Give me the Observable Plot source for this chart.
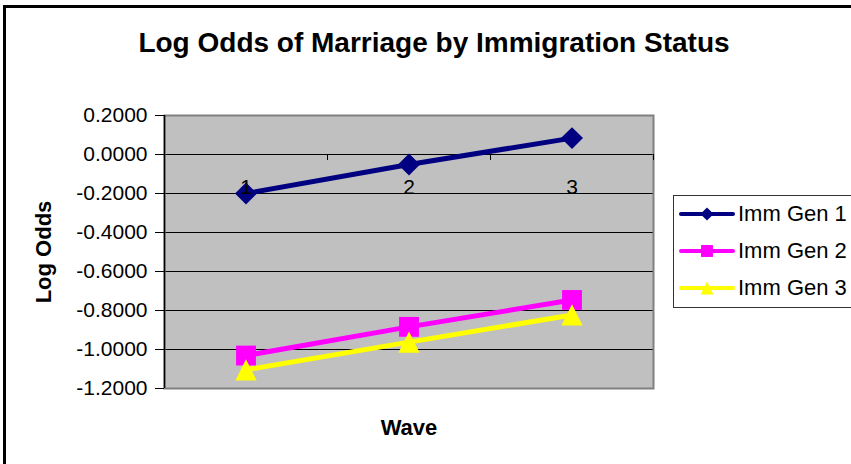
<!DOCTYPE html>
<html>
<head>
<meta charset="utf-8">
<script src="https://cdn.jsdelivr.net/npm/d3@7"></script>
<script src="https://cdn.jsdelivr.net/npm/@observablehq/plot@0.6"></script>
<style>
  html, body { margin: 0; padding: 0; background: #fff; overflow: hidden; }
  body { font-family: "Liberation Sans", Arial, sans-serif; }
  #wrap { position: relative; width: 851px; height: 464px; overflow: hidden; }
  #border { position: absolute; left: 3px; top: 5px; width: 900px; height: 600px; border: 3px solid #000; box-sizing: border-box; pointer-events: none; }
  #title { position: absolute; left: 0; width: 868px; top: 27px; text-align: center; font-weight: bold; font-size: 28px; color: #000; }
  #chart { position: absolute; left: 0; top: 0; }
  #legend { position: absolute; left: 673px; top: 195px; width: 220px; height: 113px; border: 1.5px solid #333; box-sizing: border-box; background: #fff; }
  .row { position: absolute; left: 5px; height: 30px; display: flex; align-items: center; }
  .row span { font-size: 22px; margin-left: 3px; white-space: nowrap; }
</style>
</head>
<body>
<div id="wrap">
  <div id="chart"></div>
  <div id="border"></div>
  <div id="title">Log Odds of Marriage by Immigration Status</div>
  <div id="legend"></div>
</div>
<script>
// ---- data ----
const waves = [1, 2, 3];
const gen1 = [-0.200, -0.051, 0.084];
const gen2 = [-1.031, -0.884, -0.746];
const gen3 = [-1.104, -0.962, -0.823];
const seriesNames = ["Imm Gen 1", "Imm Gen 2", "Imm Gen 3"];
const seriesColors = ["#000080", "#FF00FF", "#FFFF00"];
const yTicks = [0.2, 0, -0.2, -0.4, -0.6, -0.8, -1.0, -1.2];
const titleText = "Log Odds of Marriage by Immigration Status";
const xTitle = "Wave";
const yTitle = "Log Odds";

// ---- Excel-like symbols ----
const excelDiamond = { draw(ctx, size) { const r = Math.sqrt(size) * 0.62; ctx.moveTo(0, -r); ctx.lineTo(r, 0); ctx.lineTo(0, r); ctx.lineTo(-r, 0); ctx.closePath(); } };
const excelSquare = { draw(ctx, size) { const h = Math.sqrt(size) * 0.56; ctx.rect(-h, -h, 2 * h, 2 * h); } };
const excelTriangle = { draw(ctx, size) { const h = Math.sqrt(size) * 0.6; ctx.moveTo(0, -h); ctx.lineTo(h, h); ctx.lineTo(-h, h); ctx.closePath(); } };
const seriesSymbols = [excelDiamond, excelSquare, excelTriangle];

const seriesValues = [gen1, gen2, gen3];
const rows = [];
seriesValues.forEach((vals, s) => vals.forEach((v, i) => rows.push({ wave: waves[i], value: v, series: seriesNames[s], si: s })));
const xBounds = waves.map(w => w + 0.5);
const xDomain = [waves[0] - 0.5, waves[waves.length - 1] + 0.5];
const fmt = d => (Math.abs(d) < 1e-9 ? 0 : d).toFixed(4);

const chart = Plot.plot({
  width: 851,
  height: 464,
  marginLeft: 164,
  marginRight: 198,
  marginTop: 115,
  marginBottom: 76,
  style: { fontFamily: '"Liberation Sans", Arial, sans-serif', background: "transparent", color: "#000" },
  x: { type: "linear", domain: xDomain, axis: null },
  y: { domain: [yTicks[yTicks.length - 1], yTicks[0]], axis: null },
  marks: [
    Plot.frame({ fill: "#C0C0C0", stroke: null }),
    Plot.ruleY(yTicks, { stroke: "#000", strokeWidth: 1 }),
    Plot.frame({ stroke: "#808080", strokeWidth: 2, fill: null }),
    Plot.ruleX([xDomain[0]], { stroke: "#000", strokeWidth: 1.5 }),
    Plot.axisY({ ticks: yTicks, tickFormat: fmt, tickSize: 9, tickPadding: 8, fontSize: 21, label: null, stroke: "#000" }),
    // category axis crossing at zero
    Plot.ruleX(xBounds, { x: d => d, y1: 0, y2: 0, insetBottom: -6, stroke: "#000", strokeWidth: 1 }),
    // series
    Plot.line(rows, { x: "wave", y: "value", z: "series", stroke: d => seriesColors[d.si], strokeWidth: 5 }),
    ...seriesNames.map((name, s) =>
      Plot.dot(rows.filter(r => r.si === s), { x: "wave", y: "value", symbol: () => seriesSymbols[s], fill: seriesColors[s], stroke: null, r: 10 })
    ),
    // category labels drawn on top
    Plot.text(waves, { x: d => d, y: 0, text: d => String(d), dy: 33, fontSize: 21, fill: "#000" }),
    // axis titles
    Plot.text([yTitle], { frameAnchor: "left", textAnchor: "middle", dx: -121, rotate: -90, fontSize: 22, fontWeight: "bold", fill: "#000" }),
    Plot.text([xTitle], { frameAnchor: "bottom", textAnchor: "middle", dy: 46, fontSize: 22, fontWeight: "bold", fill: "#000" })
  ]
});
document.getElementById("chart").appendChild(chart);
document.getElementById("title").textContent = titleText;

// ---- legend ----
const legend = d3.select("#legend");
const rowTops = [3, 40, 77];
seriesNames.forEach((name, s) => {
  const row = legend.append("div").attr("class", "row").style("top", rowTops[s] + "px");
  const svg = row.append("svg").attr("width", 56).attr("height", 30);
  svg.append("line").attr("x1", 2).attr("x2", 54).attr("y1", 15).attr("y2", 15)
    .attr("stroke", seriesColors[s]).attr("stroke-width", 4).attr("stroke-linecap", "round");
  svg.append("path").attr("transform", "translate(28,15)")
    .attr("d", d3.symbol(seriesSymbols[s], Math.PI * 36)()).attr("fill", seriesColors[s]);
  row.append("span").text(name);
});
</script>
</body>
</html>
